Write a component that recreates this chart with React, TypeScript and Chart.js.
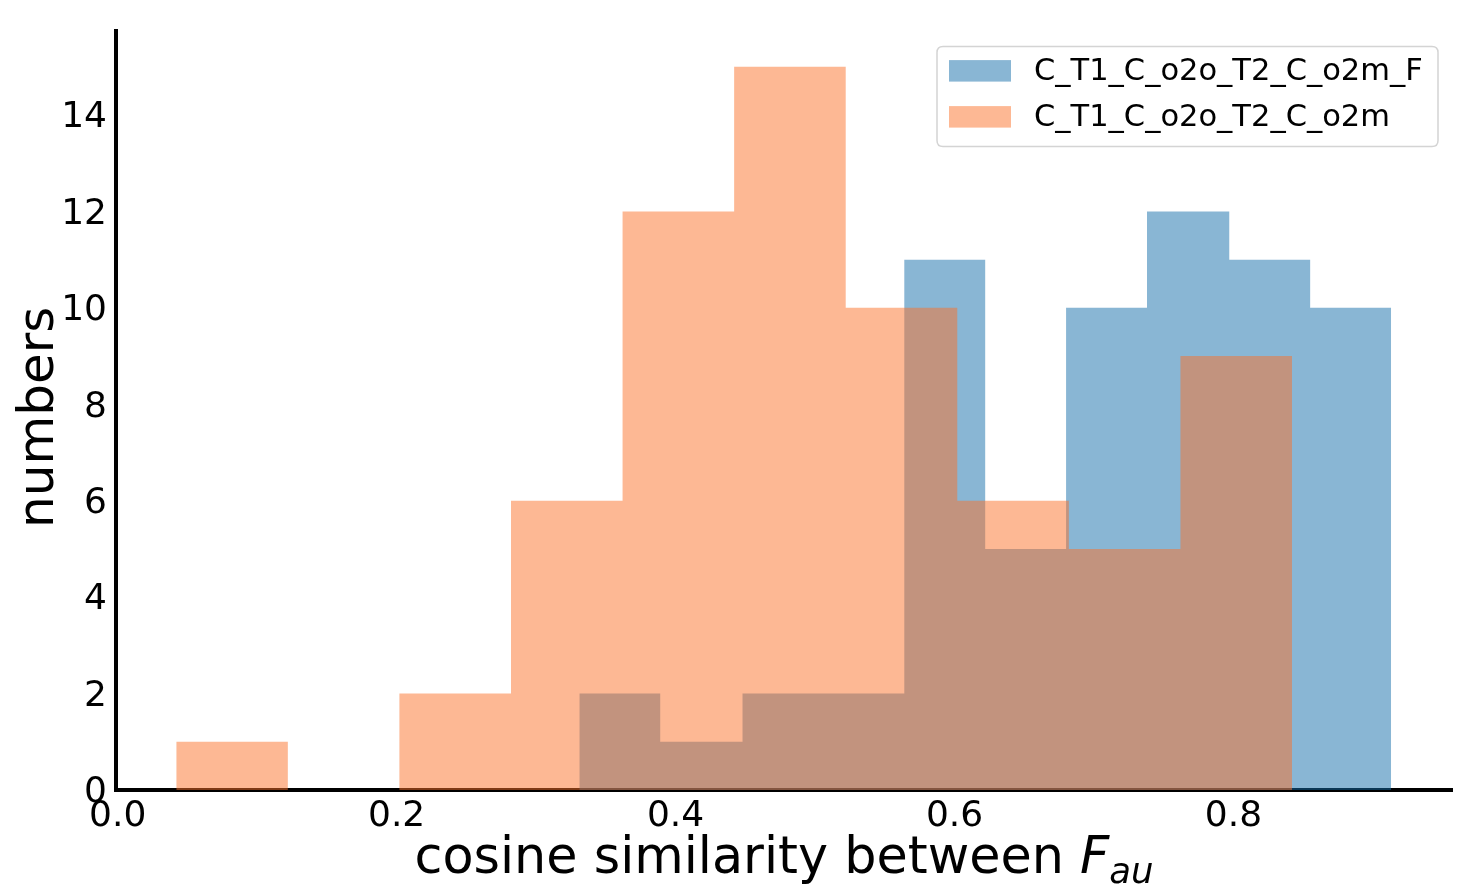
import React, { useEffect, useRef } from 'react';
import { Chart, registerables } from 'chart.js';

Chart.register(...registerables);

// ---- data ----
const seriesLabels = ['C_T1_C_o2o_T2_C_o2m_F', 'C_T1_C_o2o_T2_C_o2m'];
const blueEdges = [0.331, 0.389, 0.448, 0.506, 0.564, 0.622, 0.680, 0.738, 0.797, 0.855, 0.913];
const blueCounts = [2, 1, 2, 2, 11, 5, 10, 12, 11, 10];
const orangeEdges = [0.042, 0.122, 0.202, 0.282, 0.362, 0.442, 0.522, 0.602, 0.682, 0.762, 0.842];
const orangeCounts = [1, 0, 2, 6, 12, 15, 10, 6, 5, 9];
const xTicks = [0, 0.2, 0.4, 0.6, 0.8];
const yTicks = [0, 2, 4, 6, 8, 10, 12, 14];
const xTitleText = 'cosine similarity between ';
const xTitleMath = 'F';
const xTitleSub = 'au';
const yTitleText = 'numbers';

const seriesColors = ['rgba(20,110,170,0.5)', 'rgba(251,113,41,0.5)'];
const FONT = 'DejaVu Sans';

function toSteps(edges: number[], counts: number[]) {
  const pts = counts.map((c, i) => ({ x: edges[i], y: c }));
  pts.push({ x: edges[edges.length - 1], y: counts[counts.length - 1] });
  return pts;
}

const decorPlugin = {
  id: 'histDecor',
  afterDraw(chart: any) {
    const { ctx, chartArea } = chart;
    ctx.save();
    ctx.fillStyle = '#000';

    // x title with math part
    const cx = (chartArea.left + chartArea.right) / 2;
    const baseY = chartArea.bottom + 83;
    const big = 50.8;
    const small = 35.5;
    ctx.font = `${big}px "${FONT}"`;
    const w1 = ctx.measureText(xTitleText).width;
    ctx.font = `italic ${big}px "${FONT}"`;
    const w2 = ctx.measureText(xTitleMath).width;
    ctx.font = `italic ${small}px "${FONT}"`;
    const w3 = ctx.measureText(xTitleSub).width;
    const total = w1 + w2 + w3;
    let x = cx - total / 2;
    ctx.textAlign = 'left';
    ctx.textBaseline = 'alphabetic';
    ctx.font = `${big}px "${FONT}"`;
    ctx.fillText(xTitleText, x, baseY);
    x += w1;
    ctx.font = `italic ${big}px "${FONT}"`;
    ctx.fillText(xTitleMath, x, baseY);
    x += w2;
    ctx.font = `italic ${small}px "${FONT}"`;
    ctx.fillText(xTitleSub, x, baseY + 10);

    // y title
    ctx.save();
    ctx.translate(53, (chartArea.top + chartArea.bottom) / 2 + 7);
    ctx.rotate(-Math.PI / 2);
    ctx.textAlign = 'center';
    ctx.font = `50px "${FONT}"`;
    ctx.fillText(yTitleText, 0, 0);
    ctx.restore();

    // legend box
    const bw = 501;
    const bh = 100;
    const bx = chartArea.right - 14 - bw;
    const by = chartArea.top + 16;
    const r = 6;
    ctx.beginPath();
    ctx.moveTo(bx + r, by);
    ctx.lineTo(bx + bw - r, by);
    ctx.quadraticCurveTo(bx + bw, by, bx + bw, by + r);
    ctx.lineTo(bx + bw, by + bh - r);
    ctx.quadraticCurveTo(bx + bw, by + bh, bx + bw - r, by + bh);
    ctx.lineTo(bx + r, by + bh);
    ctx.quadraticCurveTo(bx, by + bh, bx, by + bh - r);
    ctx.lineTo(bx, by + r);
    ctx.quadraticCurveTo(bx, by, bx + r, by);
    ctx.closePath();
    ctx.fillStyle = 'rgba(255,255,255,0.8)';
    ctx.fill();
    ctx.strokeStyle = '#d4d4d4';
    ctx.lineWidth = 1.5;
    ctx.stroke();

    chart.data.datasets.forEach((ds: any, i: number) => {
      const rowY = by + 24 + i * 46;
      ctx.fillStyle = ds.backgroundColor;
      ctx.fillRect(bx + 12, rowY - 10.5, 62, 21.5);
      ctx.fillStyle = '#000';
      ctx.font = `30.5px "${FONT}"`;
      ctx.textAlign = 'left';
      ctx.textBaseline = 'middle';
      ctx.fillText(ds.label, bx + 97, rowY + 1);
    });

    ctx.restore();
  },
};

export default function App() {
  const canvasRef = useRef<HTMLCanvasElement | null>(null);

  useEffect(() => {
    if (!canvasRef.current) return;
    const chart = new Chart(canvasRef.current, {
      type: 'line',
      data: {
        datasets: [
          {
            label: seriesLabels[0],
            data: toSteps(blueEdges, blueCounts),
            stepped: 'before',
            fill: 'origin',
            backgroundColor: seriesColors[0],
            borderColor: 'rgba(0,0,0,0)',
            borderWidth: 0,
            pointRadius: 0,
            pointHoverRadius: 0,
            order: 1,
          },
          {
            label: seriesLabels[1],
            data: toSteps(orangeEdges, orangeCounts),
            stepped: 'before',
            fill: 'origin',
            backgroundColor: seriesColors[1],
            borderColor: 'rgba(0,0,0,0)',
            borderWidth: 0,
            pointRadius: 0,
            pointHoverRadius: 0,
            order: 0,
          },
        ],
      } as any,
      options: {
        animation: false,
        responsive: true,
        maintainAspectRatio: false,
        events: [],
        layout: { padding: { top: 30, right: 9, left: 0, bottom: 0 } },
        plugins: {
          legend: { display: false },
          tooltip: { enabled: false },
        },
        scales: {
          x: {
            type: 'linear',
            min: -0.0012,
            max: 0.9567,
            grid: { display: false, drawTicks: false },
            border: { display: true, color: '#000', width: 4 },
            ticks: {
              color: '#000',
              font: { family: FONT, size: 36 },
              padding: 5,
              maxRotation: 0,
              autoSkip: false,
              includeBounds: false,
              callback: (v: any) => Number(v).toFixed(1),
            },
            afterBuildTicks: (s: any) => {
              s.ticks = xTicks.map((v) => ({ value: v }));
            },
            afterFit: (s: any) => {
              s.height = 99;
            },
          },
          y: {
            type: 'linear',
            min: 0,
            max: 15.75,
            grid: { display: false, drawTicks: false },
            border: { display: true, color: '#000', width: 4 },
            ticks: {
              color: '#000',
              font: { family: FONT, size: 36 },
              padding: 9,
              labelOffset: 3,
              autoSkip: false,
              includeBounds: false,
              callback: (v: any) => String(Math.round(Number(v))),
            },
            afterBuildTicks: (s: any) => {
              s.ticks = yTicks.map((v) => ({ value: v }));
            },
            afterFit: (s: any) => {
              s.width = 116;
            },
          },
        },
      } as any,
      plugins: [decorPlugin],
    });
    return () => chart.destroy();
  }, []);

  return (
    <div style={{ position: 'absolute', left: 0, top: 0, width: '1461px', height: '889px', background: '#fff' }}>
      <canvas ref={canvasRef} />
    </div>
  );
}
